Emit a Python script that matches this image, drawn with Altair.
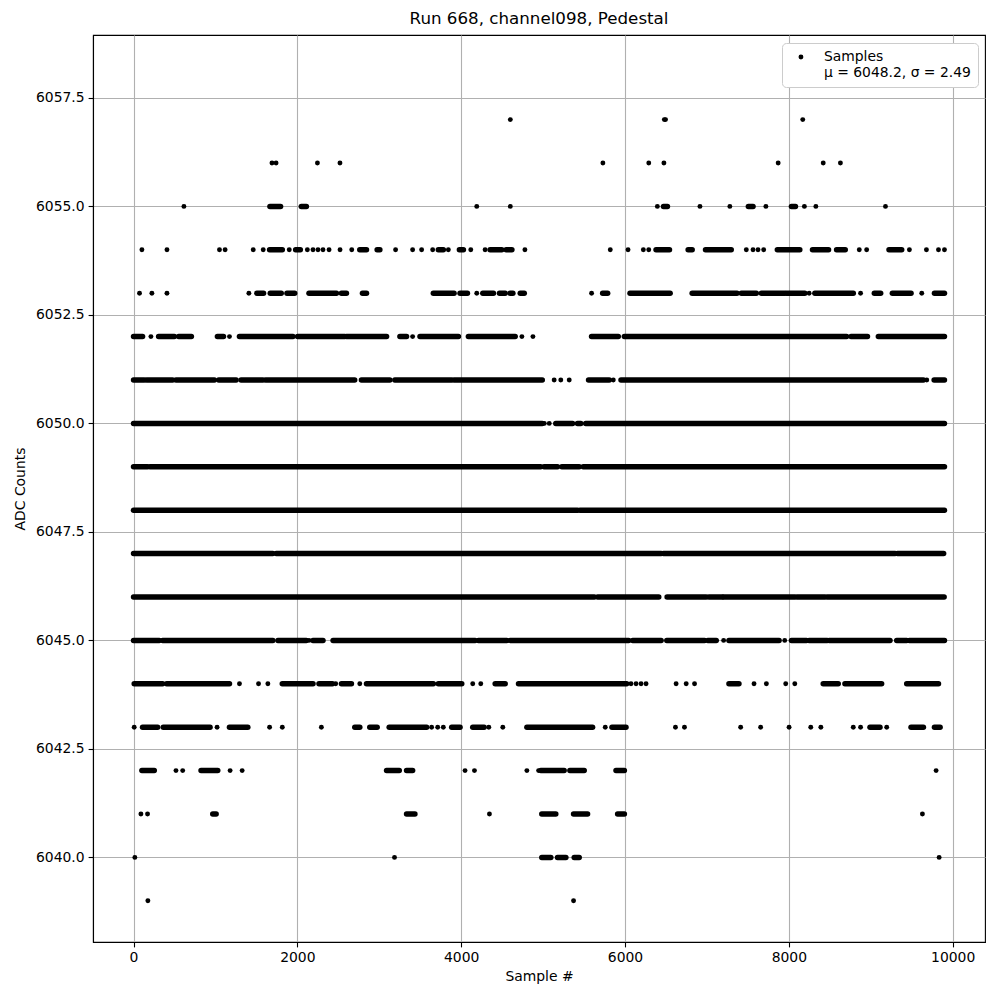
import altair as alt
import pandas as pd

# ---- data (sample index, ADC level) ----
# dense runs of samples per ADC level: [first sample, last sample]
seg_6055 = [[1665, 1795], [2048, 2110], [6470, 6518], [7506, 7563], [8032, 8081]]
pts_6055 = [615, 4190, 4600, 6395, 6915, 7280, 7720, 8190, 8330, 9180]

seg_6054 = [[1661, 1816], [1979, 2036], [2762, 2844], [2974, 3007], [3721, 3782],
            [3978, 4027], [4353, 4496], [4549, 4619], [6379, 6543], [6771, 6820],
            [6983, 7297], [7860, 8134], [8289, 8485], [8583, 8689], [9223, 9378]]
pts_6054 = [102, 408, 1049, 1118, 1461, 1583, 1901, 2122, 2191, 2252, 2313, 2387,
            2521, 2664, 3199, 3407, 3517, 3652, 3843, 4117, 4292, 4778, 5820, 6037,
            6224, 6290, 7481, 7563, 7624, 7693, 8860, 8950, 9472, 9680, 9827, 9900]

seg_6053 = [[1506, 1587], [1669, 1803], [1873, 1967], [2142, 2477], [2538, 2599],
            [2795, 2844], [3660, 3913], [3986, 4076], [4264, 4394], [4468, 4537],
            [4598, 4631], [4721, 4770], [5727, 5788], [6061, 6551], [6820, 7367],
            [7420, 7603], [7665, 7950], [7971, 8195], [8318, 8787], [9044, 9121],
            [9264, 9492], [9778, 9900]]
pts_6053 = [73, 224, 408, 1408, 4190, 5592, 8248, 8876, 9623]

seg_6052 = [[0, 110], [306, 498], [551, 706], [1024, 1098], [1293, 1946],
            [2003, 2579], [2599, 3089], [3252, 3333], [3497, 3966], [4088, 4659],
            [5592, 5918], [5992, 8705], [8760, 8960], [9093, 9900]]
pts_6052 = [212, 1171, 3407, 4741, 4876]

seg_6051 = [[0, 130], [159, 477], [518, 987], [1040, 1252], [1313, 1579],
            [1611, 2700], [2782, 3129], [3190, 3884], [3913, 4990], [5555, 5808],
            [5951, 9643], [9774, 9900]]
pts_6051 = [5135, 5216, 5319, 5857, 9684]

seg_6050 = [[0, 4990], [5155, 5360], [5420, 5460], [5520, 9900]]
pts_6050 = [5015, 5075]

seg_6049 = [[0, 170], [200, 4970], [5012, 5176], [5229, 5441], [5490, 9900]]
seg_6048 = [[0, 5420], [5450, 9900]]
seg_6047 = [[0, 1700], [1742, 6441], [6469, 9297], [9326, 9890]]
seg_6046 = [[0, 5625], [5666, 6412], [6514, 6991], [7024, 7187], [7204, 8073],
            [8101, 8440], [8469, 9896]]

seg_6045 = [[0, 314], [355, 1701], [1763, 2109], [2191, 2313], [2436, 4170],
            [4211, 4557], [4598, 6045], [6094, 6441], [6510, 6971], [7012, 7114],
            [7269, 7881], [8032, 8215], [8248, 8468], [8493, 9235], [9317, 9439],
            [9472, 9900]]
pts_6045 = [2142, 7204, 7950]

seg_6044 = [[8, 355], [404, 1171], [1816, 2191], [2264, 2428], [2538, 2660],
            [2844, 3660], [3721, 4007], [4415, 4537], [4700, 6020], [7269, 7391],
            [8420, 8603], [8685, 9133], [9439, 9827]]
pts_6044 = [1293, 1526, 1640, 2468, 2762, 4141, 4239, 6073, 6135, 6196, 6257,
            6624, 6747, 6849, 7575, 7726, 7962, 8073]

seg_6043 = [[110, 294], [363, 934], [1171, 1395], [2701, 2762], [2884, 2974],
            [3121, 3578], [3884, 3986], [4141, 4280], [4802, 5604], [5841, 6012],
            [8991, 9113], [9492, 9643], [9778, 9847]]
pts_6043 = [8, 1020, 1661, 1816, 2293, 3639, 3713, 3782, 4337, 4508, 5759, 6616,
            6726, 7412, 7656, 8003, 8268, 8391, 8787, 8876, 9195]

seg_6042 = [[102, 253], [824, 1028], [3089, 3244], [3333, 3407], [4972, 5257],
            [5327, 5502], [5890, 5992]]
pts_6042 = [518, 600, 1179, 1326, 4047, 4162, 4802, 4945, 9798]

seg_6041 = [[967, 1008], [3333, 3435], [4984, 5155], [5372, 5543], [5910, 5992]]
pts_6041 = [90, 171, 4345, 9631]

seg_6040 = [[4984, 5094], [5176, 5278], [5380, 5441]]
pts_6040 = [16, 3186, 9835]

pts_6039 = [175, 5372]
pts_6056 = [1690, 1740, 2245, 2520, 5730, 6290, 6475, 7870, 8420, 8630]
pts_6057 = [4600, 6480, 6495, 8170]

x_ticks = [0, 2000, 4000, 6000, 8000, 10000]
y_ticks = [6040.0, 6042.5, 6045.0, 6047.5, 6050.0, 6052.5, 6055.0, 6057.5]
legend_lines = ["Samples", "μ = 6048.2, σ = 2.49"]

# ---- tables ----
segments = {6055: seg_6055, 6054: seg_6054, 6053: seg_6053, 6052: seg_6052,
            6051: seg_6051, 6050: seg_6050, 6049: seg_6049, 6048: seg_6048,
            6047: seg_6047, 6046: seg_6046, 6045: seg_6045, 6044: seg_6044,
            6043: seg_6043, 6042: seg_6042, 6041: seg_6041, 6040: seg_6040}
points = {6057: pts_6057, 6056: pts_6056, 6055: pts_6055, 6054: pts_6054,
          6053: pts_6053, 6052: pts_6052, 6051: pts_6051, 6050: pts_6050,
          6045: pts_6045, 6044: pts_6044, 6043: pts_6043, 6042: pts_6042,
          6041: pts_6041, 6040: pts_6040, 6039: pts_6039}

seg_df = pd.DataFrame([{"adc": lv, "x": a, "x2": b}
                       for lv, runs in segments.items() for a, b in runs])
pt_df = pd.DataFrame([{"adc": lv, "x": s, "series": "Samples"}
                      for lv, xs in points.items() for s in xs])

FONT = "DejaVu Sans"

x_scale = alt.Scale(domain=[-495, 10395], nice=False, zero=False)
y_scale = alt.Scale(domain=[6038.05, 6058.95], nice=False, zero=False)

x_axis = alt.Axis(title="Sample #", values=x_ticks, format="d", grid=True)
y_axis = alt.Axis(title="ADC Counts", values=y_ticks, format=".1f", grid=True)

runs = alt.Chart(seg_df).mark_rule(
    color="black", strokeWidth=5.5, strokeCap="round"
).encode(
    x=alt.X("x:Q", scale=x_scale, axis=x_axis),
    x2="x2:Q",
    y=alt.Y("adc:Q", scale=y_scale, axis=y_axis),
)

label_expr = "[" + ", ".join("'" + s + "'" for s in legend_lines) + "]"

dots = alt.Chart(pt_df).mark_circle(size=24, opacity=1).encode(
    x=alt.X("x:Q", scale=x_scale, axis=x_axis),
    y=alt.Y("adc:Q", scale=y_scale, axis=y_axis),
    color=alt.Color(
        "series:N",
        scale=alt.Scale(domain=["Samples"], range=["black"]),
        legend=alt.Legend(
            title=None, orient="none", legendX=689, legendY=8,
            labelExpr=label_expr, fillColor="white", strokeColor="#cccccc",
            cornerRadius=4, padding=7, symbolType="circle", symbolSize=24,
            symbolStrokeWidth=0, symbolOffset=5, labelOffset=16,
            labelFontSize=13.9, labelFont=FONT, labelLimit=400,
            labelColor="black",
        ),
    ),
)

chart = alt.layer(runs, dots).properties(
    width=892, height=907,
    title=alt.Title("Run 668, channel098, Pedestal", fontSize=16.7, font=FONT,
                    fontWeight="normal", color="black", offset=7),
    padding={"left": 85, "top": 27, "right": 7, "bottom": 50},
    autosize=alt.AutoSizeParams(type="none"),
).configure_view(
    stroke="black", strokeWidth=1.1
).configure_axis(
    labelFont=FONT, labelFontSize=13.9, labelColor="black",
    titleFont=FONT, titleFontSize=13.9, titleFontWeight="normal", titleColor="black",
    domainColor="black", domainWidth=1.1, tickColor="black", tickWidth=1.1,
    tickSize=4.9, labelPadding=4, gridColor="#b0b0b0", gridWidth=1.1,
).configure_axisX(
    titlePadding=5
).configure_axisY(
    titlePadding=8
)

chart.save("out.html", embed_options={"renderer": "svg", "actions": False})
